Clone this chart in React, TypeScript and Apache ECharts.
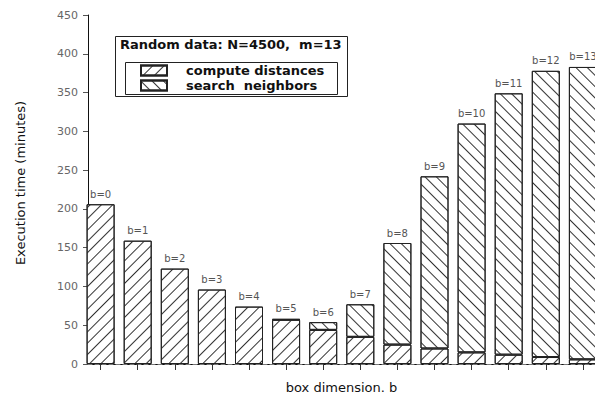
import React, { useEffect, useRef } from "react";
import * as echarts from "echarts";

const categories = ["0", "1", "2", "3", "4", "5", "6", "7", "8", "9", "10", "11", "12", "13"];
const computeDistances = [206, 159, 123, 96, 74, 57, 44, 35, 25, 20, 15, 12, 9, 6];
const searchNeighbors = [0, 0, 0, 0, 0, 1, 10, 42, 131, 222, 295, 337, 369, 377];
const yMax = 450;
const yStep = 50;

const FONT = "DejaVu Sans";

export default function App() {
  const ref = useRef<HTMLDivElement>(null);
  useEffect(() => {
    if (!ref.current) return;
    const chart = echarts.init(ref.current, null, { renderer: "svg" });
    const hatch = (rot: number) => ({
      symbol: "rect",
      symbolSize: 1,
      dashArrayX: [1, 0],
      dashArrayY: [1, 7],
      rotation: rot,
      color: "#333",
      backgroundColor: "#fff",
    });
    chart.setOption({
      animation: false,
      backgroundColor: "#fff",
      grid: [
        { left: 82.05, top: 15, width: 519.4, bottom: 31, containLabel: false, outerBoundsMode: "none" },
        { left: 88, top: 15, width: 507, bottom: 31, containLabel: false, outerBoundsMode: "none" },
      ],
      xAxis: [
        {
          type: "category",
          gridIndex: 0,
          data: categories,
          boundaryGap: true,
          axisLine: { show: false },
          axisTick: { show: true, alignWithLabel: true, length: 6, lineStyle: { color: "#333" } },
          axisLabel: { show: false },
          splitLine: { show: false },
        },
        {
          type: "value",
          gridIndex: 1,
          min: 0,
          max: 1,
          axisLine: { show: true, onZero: false, lineStyle: { color: "#111", width: 1 } },
          axisTick: { show: false },
          axisLabel: { show: false },
          splitLine: { show: false },
          name: "box dimension. b",
          nameLocation: "middle",
          nameGap: 17,
          nameTextStyle: { fontFamily: FONT, fontSize: 13, color: "#111", verticalAlign: "top" },
        },
        {
          type: "value",
          gridIndex: 1,
          position: "top",
          min: 0,
          max: 1,
          axisLine: { show: true, lineStyle: { color: "#777", type: [4, 3], width: 1 } },
          axisTick: { show: false },
          axisLabel: { show: false },
          splitLine: { show: false },
        },
      ],
      yAxis: [
        { type: "value", gridIndex: 0, min: 0, max: yMax, show: false },
        {
          type: "value",
          gridIndex: 1,
          min: 0,
          max: yMax,
          interval: yStep,
          axisLine: { show: true, lineStyle: { color: "#111", width: 1 } },
          axisTick: { show: true, length: 5, lineStyle: { color: "#555" } },
          axisLabel: { fontFamily: FONT, fontSize: 11, color: "#666", margin: 10 },
          splitLine: { show: false },
        },
      ],
      legend: {
        orient: "vertical",
        left: 135,
        top: 62,
        padding: [2, 5, 2, 5],
        itemWidth: 26,
        itemHeight: 10,
        itemGap: 2,
        icon: "rect",
        textStyle: { fontFamily: FONT, fontSize: 13, fontWeight: "bold", color: "#111", padding: [0, 0, 0, 14] },
        data: ["compute distances", "search  neighbors"],
        z: 20,
      },
      series: [
        {
          name: "compute distances",
          type: "bar",
          xAxisIndex: 0,
          yAxisIndex: 0,
          stack: "t",
          barWidth: 28,
          data: computeDistances,
          itemStyle: { color: "#fff", borderColor: "#222", borderWidth: 1, decal: hatch(-Math.PI / 4) },
        },
        {
          name: "search  neighbors",
          type: "bar",
          xAxisIndex: 0,
          yAxisIndex: 0,
          stack: "t",
          barWidth: 28,
          data: searchNeighbors.map((v) => (v === 0 ? { value: v, itemStyle: { borderWidth: 0 } } : v)),
          itemStyle: { color: "#fff", borderColor: "#222", borderWidth: 1, decal: hatch(Math.PI / 4) },
          label: {
            show: true,
            position: "top",
            distance: 5,
            fontFamily: FONT,
            fontSize: 10,
            color: "#555",
            formatter: (p: any) => "b=" + categories[p.dataIndex],
          },
        },
      ],
      graphic: [
        {
          type: "rect",
          shape: { x: 115.5, y: 36.5, width: 232, height: 60 },
          style: { fill: "none", stroke: "#222", lineWidth: 1 },
          z: 10,
        },
        {
          type: "rect",
          shape: { x: 125.5, y: 62.5, width: 212, height: 32 },
          style: { fill: "none", stroke: "#222", lineWidth: 1 },
          z: 11,
        },
        {
          type: "text",
          x: 120,
          y: 44,
          style: {
            text: "Random data: N=4500,  m=13",
            fontFamily: FONT,
            fontSize: 13,
            fontWeight: "bold",
            fill: "#111",
            textVerticalAlign: "middle",
          },
          z: 11,
        },
        {
          type: "text",
          x: 20,
          y: 183,
          rotation: Math.PI / 2,
          style: {
            text: "Execution time (minutes)",
            fontFamily: FONT,
            fontSize: 13,
            fill: "#111",
            align: "center",
            verticalAlign: "middle",
          },
        },
      ],
    });
    return () => chart.dispose();
  }, []);
  return <div ref={ref} style={{ width: 595, height: 395, position: "absolute", left: 0, top: 0 }} />;
}
